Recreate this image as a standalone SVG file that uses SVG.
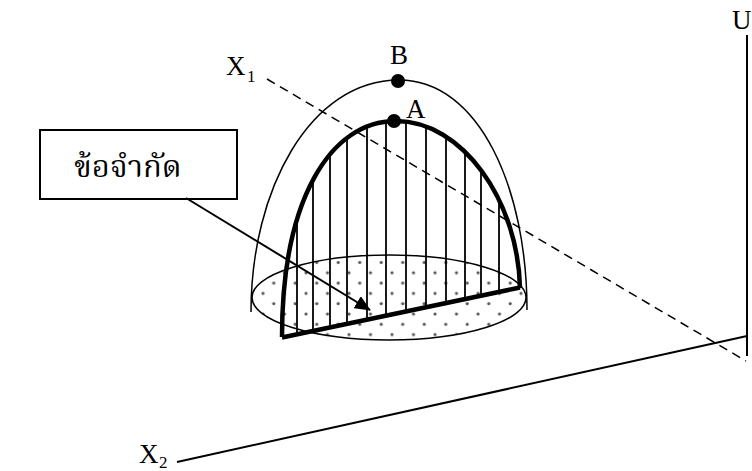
<svg xmlns="http://www.w3.org/2000/svg" width="752" height="471" viewBox="0 0 752 471">
<style>
.lbl{font-family:"Liberation Serif","Times New Roman",serif;font-size:27px;fill:#000}
.sub{font-family:"Liberation Serif","Times New Roman",serif;font-size:17px;fill:#000}
.thai{font-family:"Noto Serif Thai","Noto Sans Thai","Loma","Garuda","DejaVu Sans",sans-serif;font-size:31px;fill:#000}
.thin{fill:none;stroke:#000;stroke-width:1.5}
.axis{fill:none;stroke:#000;stroke-width:2}
.thick{fill:none;stroke:#000;stroke-width:4.5;stroke-linecap:butt}
.vl{stroke:#000;stroke-width:1.8}
.dot{fill:#000}
</style>
<defs>
<pattern id="dots" patternUnits="userSpaceOnUse" width="21.5" height="20.6" x="0" y="0">
<circle cx="5" cy="5" r="1.6" fill="#555"/>
<circle cx="15.75" cy="15.3" r="1.6" fill="#555"/>
</pattern>
<clipPath id="archclip">
<path d="M 282,337 C 282,200 330,121 396,121 C 462,121 518,200 520,288 Z"/>
</clipPath>
<marker id="ah" markerWidth="16" markerHeight="14" refX="15" refY="7" orient="auto" markerUnits="userSpaceOnUse">
<path d="M0,0 L16,7 L0,14 Z" fill="#000"/>
</marker>
</defs>

<g id="axes">
<line class="axis" x1="747" y1="35" x2="747" y2="356"/>
<line class="axis" x1="177" y1="462" x2="747" y2="336"/>
<text class="lbl" x="732" y="29">U</text>
<text class="lbl" x="139" y="463">X</text>
<text class="sub" x="159" y="468">2</text>
</g>

<g id="feasible-region">
<ellipse cx="389" cy="297.5" rx="137" ry="42.5" fill="url(#dots)" stroke="#000" stroke-width="1.5"/>
</g>

<g id="surface-A">
<g clip-path="url(#archclip)">
<line class="vl" x1="297" y1="100" x2="297" y2="350"/>
<line class="vl" x1="313" y1="100" x2="313" y2="350"/>
<line class="vl" x1="330" y1="100" x2="330" y2="350"/>
<line class="vl" x1="347" y1="100" x2="347" y2="350"/>
<line class="vl" x1="367" y1="100" x2="367" y2="350"/>
<line class="vl" x1="386" y1="100" x2="386" y2="350"/>
<line class="vl" x1="406" y1="100" x2="406" y2="350"/>
<line class="vl" x1="426" y1="100" x2="426" y2="350"/>
<line class="vl" x1="446" y1="100" x2="446" y2="350"/>
<line class="vl" x1="465" y1="100" x2="465" y2="350"/>
<line class="vl" x1="481" y1="100" x2="481" y2="350"/>
<line class="vl" x1="499" y1="100" x2="499" y2="350"/>
</g>
<path class="thick" d="M 282,337 C 282,200 330,121 396,121 C 462,121 518,200 520,288"/>
<line class="thick" x1="282" y1="337.5" x2="520" y2="287.5" stroke-width="4"/>
<circle class="dot" cx="394" cy="121" r="7"/>
<text class="lbl" x="406" y="118">A</text>
</g>

<g id="surface-B">
<path class="thin" d="M 251,312 C 251,190 310,80 399,80 C 480,80 527,190 527,310"/>
<circle class="dot" cx="398" cy="81" r="7"/>
<text class="lbl" x="390" y="64">B</text>
</g>

<g id="axis-X1">
<line x1="267" y1="79" x2="746" y2="361" stroke="#000" stroke-width="1.5" stroke-dasharray="9,6"/>
<text class="lbl" x="226" y="75">X</text>
<text class="sub" x="247" y="82">1</text>
</g>

<g id="constraint-box">
<rect x="40" y="130" width="197" height="69" fill="#fff" stroke="#000" stroke-width="2"/>
<text class="thai" x="128" y="177" text-anchor="middle">ข้อจำกัด</text>
</g>

<g id="connectors">
<line x1="186" y1="198" x2="370" y2="310" stroke="#000" stroke-width="2" marker-end="url(#ah)"/>
</g>
</svg>
